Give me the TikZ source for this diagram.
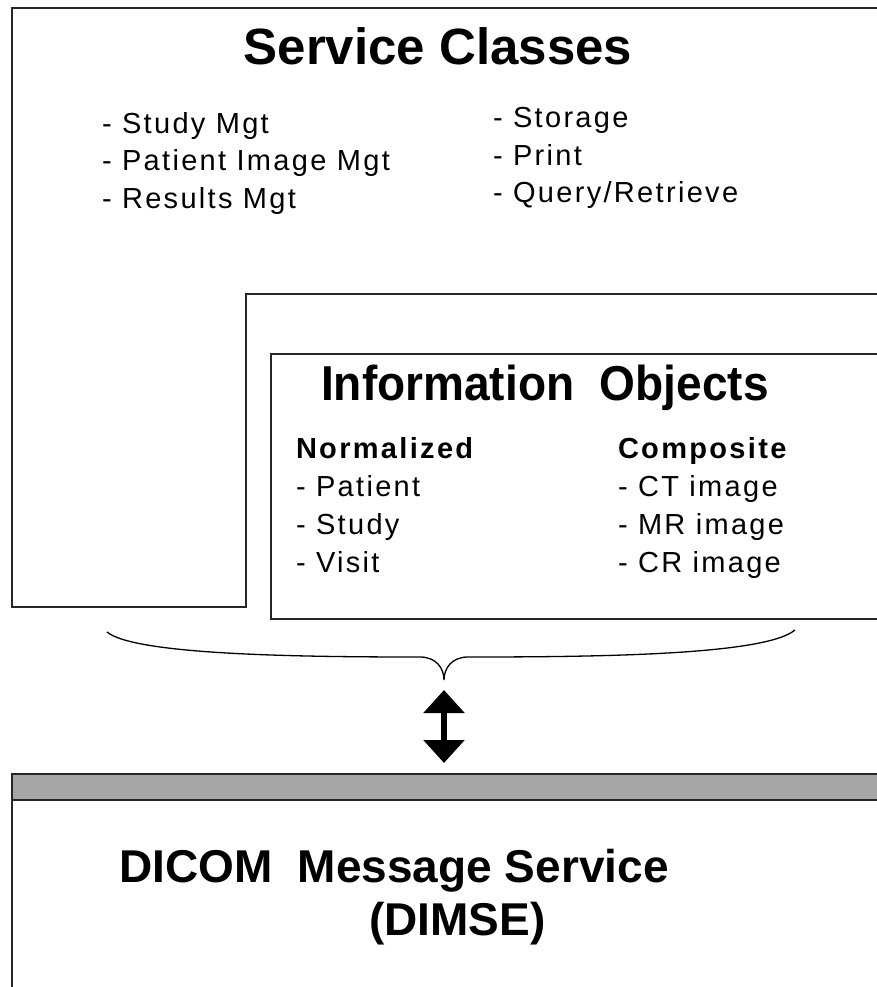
\documentclass[tikz,border=0pt]{standalone}
\usepackage{fontspec}
\usepackage{graphicx}
\setmainfont{Liberation Sans}
\newfontfamily\itemfont{Liberation Sans}[LetterSpace=8]
\usetikzlibrary{positioning,arrows.meta}

\begin{document}
\begin{tikzpicture}[x=1pt, y=-1pt, line width=2pt]
		\tikzstyle{frame}=[draw=black!85, line width=2pt]
		\tikzstyle{title}=[inner sep=0pt, anchor=base, font=\bfseries\fontsize{51}{51}\selectfont]
		\tikzstyle{list}=[inner sep=0pt, align=left, anchor=base west, font=\itemfont\fontsize{29}{37.5}\selectfont]
		\useasboundingbox (0,0) rectangle (877,987);
		% frames
		\draw[frame] (880,8) -- (12,8) -- (12,607) -- (246,607) -- (246,294) -- (880,294);
		\draw[frame] (880,354) -- (271,354) -- (271,619) -- (880,619);
		\fill[black!35] (12,774) rectangle (880,800);
		\draw[frame] (880,774) -- (12,774) -- (12,990);
		\draw[frame] (12,800) -- (880,800);
		% service classes (lists sit on the baseline of their last line)
		\node[title] (sc) at (438,65) {Service Classes};
		\node[list] (sclist1) at (101,208) {- Study Mgt\\- Patient Image Mgt\\- Results Mgt};
		\node[list] (sclist2) at (492,203) {- Storage\\- Print\\- Query/Retrieve};
		% information objects
		\node[title, font=\bfseries\fontsize{49}{49}\selectfont] (io) at (545,400)
		{\scalebox{0.94}[1]{Information\ \ Objects}};
		\node[list, font=\itemfont\fontsize{29}{38}\selectfont] (norm) at (295,572)
		{\textbf{Normalized}\\- Patient\\- Study\\- Visit};
		\node[list, font=\itemfont\fontsize{29}{38}\selectfont] (comp) at (617,572)
		{\textbf{Composite}\\- CT image\\- MR image\\- CR image};
		% brace and arrow
		\coordinate (bleft) at (107,632);
		\coordinate (btip) at (444,680);
		\coordinate (bright) at (795,630);
		\draw[line width=1.3pt] (bleft) .. controls (135,655) and (300,657) .. (420,657)
		.. controls (436,657) and (444,668) .. (btip)
		.. controls (444,668) and (452,657) .. (468,657)
		.. controls (600,657) and (765,655) .. (bright);
		\coordinate (arrtop) at (444,690);
		\coordinate (arrbot) at (444,763);
		\draw[line width=6pt, {Triangle[width=40pt,length=23pt]}-{Triangle[width=40pt,length=23pt]}] (arrtop) -- (arrbot);
		% message service
		\node[title, anchor=base west, font=\bfseries\fontsize{46}{46}\selectfont] (dimse) at (118,882)
		{DICOM\ \ Message Service};
		\node[title, anchor=base west, font=\bfseries\fontsize{46}{46}\selectfont] (dimseabbr) at (368,935)
		{(DIMSE)};
\end{tikzpicture}
\end{document}
